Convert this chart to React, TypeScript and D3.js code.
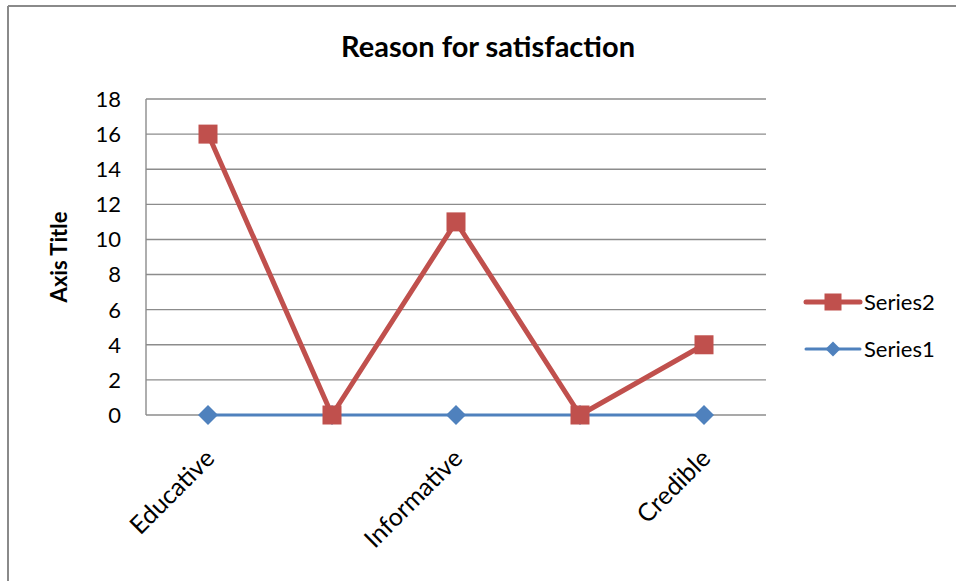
import React from "react";
import * as d3 from "d3";

// Chart data
const categories: string[] = ["Educative", "", "Informative", "", "Credible"];
const series2: number[] = [16, 0, 11, 0, 4];
const series1: number[] = [0, 0, 0, 0, 0];
const yTicks: number[] = [0, 2, 4, 6, 8, 10, 12, 14, 16, 18];
const chartTitle = "Reason for satisfaction";
const yAxisTitle = "Axis Title";
const legendItems = [
  { name: "Series2", color: "#C0504D", marker: "square" },
  { name: "Series1", color: "#4F81BD", marker: "diamond" },
];

const W = 956;
const H = 581;
const plot = { left: 146, right: 766, top: 99, bottom: 415 };
const FONT = "Lato, 'Open Sans', sans-serif";

export default function App() {
  const x = d3
    .scaleBand<number>()
    .domain(categories.map((_, i) => i))
    .range([plot.left, plot.right]);
  const cx = (i: number) => (x(i) ?? 0) + x.bandwidth() / 2;
  const y = d3.scaleLinear().domain([0, 18]).range([plot.bottom, plot.top]);

  const line = d3
    .line<number>()
    .x((_, i) => cx(i))
    .y((d) => y(d));

  const square = (px: number, py: number, s: number, fill: string, key?: any) => (
    <rect key={key} x={px - s / 2} y={py - s / 2} width={s} height={s} fill={fill} />
  );
  const diamond = (px: number, py: number, s: number, fill: string, key?: any) => (
    <path
      key={key}
      d={`M${px},${py - s / 2}L${px + s / 2},${py}L${px},${py + s / 2}L${px - s / 2},${py}Z`}
      fill={fill}
    />
  );

  return (
    <svg
      width={W}
      height={H}
      style={{ position: "absolute", left: 0, top: 0, background: "#fff" }}
      fontFamily={FONT}
    >
      <rect x={0} y={0} width={W} height={H} fill="#fff" />
      {/* chart frame */}
      <line x1={8} y1={6} x2={W} y2={6} stroke="#8a8a8a" strokeWidth={2} />
      <line x1={8} y1={6} x2={8} y2={H} stroke="#8a8a8a" strokeWidth={2} />

      <text x={488} y={57} textAnchor="middle" fontWeight="bold" fontSize={29} fill="#000">
        {chartTitle}
      </text>

      {/* gridlines */}
      {yTicks.map((t) => (
        <line
          key={t}
          x1={plot.left}
          x2={plot.right}
          y1={y(t)}
          y2={y(t)}
          stroke="#8c8c8c"
          strokeWidth={1.4}
        />
      ))}
      <line
        x1={plot.left}
        x2={plot.left}
        y1={plot.top}
        y2={plot.bottom}
        stroke="#8c8c8c"
        strokeWidth={1.4}
      />

      {/* y tick labels */}
      {yTicks.map((t) => (
        <text
          key={t}
          x={121}
          y={y(t)}
          dy="0.36em"
          textAnchor="end"
          fontSize={22}
          fill="#000"
        >
          {t}
        </text>
      ))}

      <text
        transform={`translate(67,${(plot.top + plot.bottom) / 2}) rotate(-90)`}
        textAnchor="middle"
        fontWeight="bold"
        fontSize={22}
        fill="#000"
      >
        {yAxisTitle}
      </text>

      {/* category labels */}
      {categories.map((c, i) =>
        c ? (
          <text
            key={i}
            transform={`translate(${cx(i) + 8},${460}) rotate(-45)`}
            textAnchor="end"
            fontSize={25}
            fill="#000"
          >
            {c}
          </text>
        ) : null
      )}

      {/* Series1 */}
      <path d={line(series1) ?? ""} fill="none" stroke="#4F81BD" strokeWidth={3} />
      {series1.map((v, i) => diamond(cx(i), y(v), 20, "#4F81BD", i))}

      {/* Series2 */}
      <path
        d={line(series2) ?? ""}
        fill="none"
        stroke="#C0504D"
        strokeWidth={5}
        strokeLinejoin="round"
      />
      {series2.map((v, i) => square(cx(i), y(v), 19, "#C0504D", i))}

      {/* legend */}
      {legendItems.map((item, k) => {
        const ly = 302 + k * 47;
        return (
          <g key={item.name}>
            <line
              x1={806}
              x2={860}
              y1={ly}
              y2={ly}
              stroke={item.color}
              strokeWidth={item.marker === "square" ? 5 : 3}
              strokeLinecap="round"
            />
            {item.marker === "square"
              ? square(833, ly, 17, item.color)
              : diamond(833, ly, 15, item.color)}
            <text x={864} y={ly} dy="0.36em" fontSize={22} fill="#000">
              {item.name}
            </text>
          </g>
        );
      })}
    </svg>
  );
}
